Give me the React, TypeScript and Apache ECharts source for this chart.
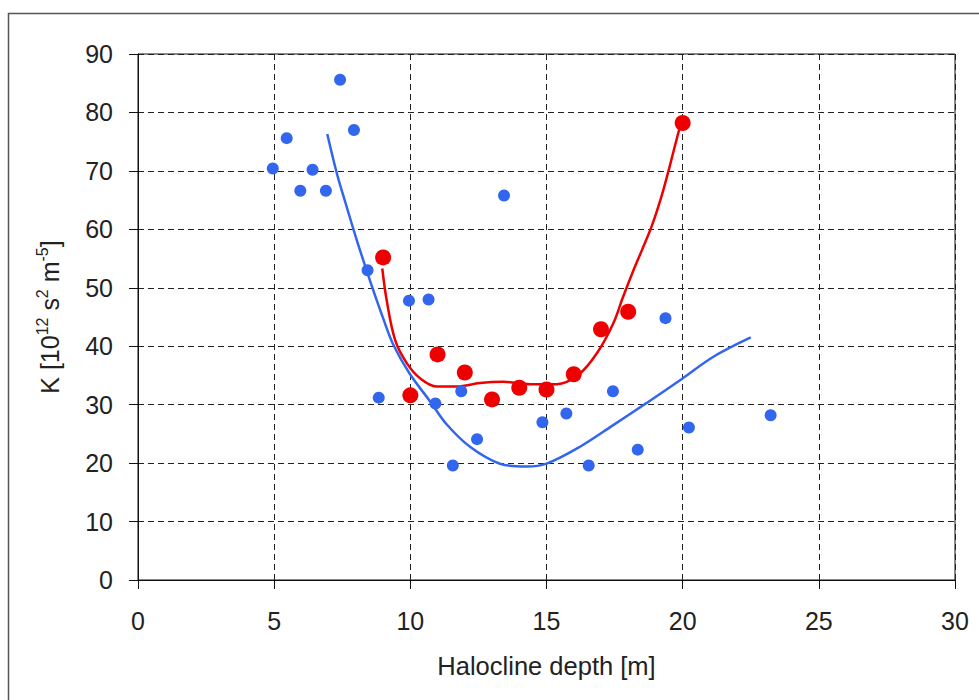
import React, { useEffect, useRef } from "react";
import * as echarts from "echarts";

// Measured points (halocline depth [m], K)
const blueX = [4.95, 5.46, 5.96, 6.41, 6.9, 7.42, 7.93, 8.43, 8.84, 9.95, 10.67, 10.92, 11.56, 11.87, 12.45, 13.44, 14.85, 15.73, 16.55, 17.44, 18.35, 19.37, 20.23, 23.23];
const blueY = [70.4, 75.6, 66.6, 70.2, 66.6, 85.6, 77.0, 53.0, 31.2, 47.8, 48.0, 30.2, 19.6, 32.3, 24.1, 65.8, 27.0, 28.5, 19.6, 32.3, 22.3, 44.8, 26.1, 28.2];

const redX = [9, 10, 11, 12, 13, 14, 15, 16, 17, 18, 20];
const redY = [55.2, 31.6, 38.6, 35.5, 30.9, 32.9, 32.6, 35.2, 42.9, 45.9, 78.2];

// Fitted curves
const blueFitX = [6.95, 7.3, 7.66, 8.03, 8.55, 9.0, 9.38, 9.99, 10.72, 11.34, 12.19, 13.29, 14.27, 15.0, 16.23, 17.45, 18.68, 19.97, 21.13, 22.5];
const blueFitY = [76.3, 69.6, 63.9, 58.2, 50.8, 44.8, 40.2, 35.2, 30.6, 26.6, 22.8, 19.9, 19.4, 19.9, 22.8, 26.5, 30.3, 34.4, 38.2, 41.5];

const redFitX = [8.97, 9.13, 9.44, 9.87, 10.36, 10.97, 11.7, 12.56, 13.42, 14.4, 15.38, 16.17, 16.85, 17.45, 17.8, 18.15, 18.5, 18.86, 19.2, 19.48, 19.7, 19.93];
const redFitY = [53.3, 47.9, 41.1, 37.1, 34.5, 33.1, 33.1, 33.7, 33.9, 33.5, 33.5, 35.1, 38.8, 43.9, 48.3, 52.5, 56.4, 60.5, 65.3, 70.0, 74.0, 78.1];

const xTicks = { min: 0, max: 30, interval: 5 };
const yTicks = { min: 0, max: 90, interval: 10 };

const zip = (xs: number[], ys: number[]) => xs.map((x, i) => [x, ys[i]]);

const FONT = "'Liberation Sans', Arial, sans-serif";
const BLUE = "#3366ee";
const RED = "#ee0000";

export default function App() {
  const ref = useRef<HTMLDivElement>(null);
  useEffect(() => {
    if (!ref.current) return;
    const chart = echarts.init(ref.current, null, { renderer: "svg" });
    const dashed = { show: true, lineStyle: { color: "#222", type: [6, 4] as any, width: 1 } };
    chart.setOption({
      animation: false,
      backgroundColor: "#ffffff",
      textStyle: { fontFamily: FONT },
      grid: {
        left: 138,
        right: 24,
        top: 54,
        bottom: 120,
        show: true,
        borderColor: "#111",
        borderWidth: 1,
      },
      graphic: [
        {
          type: "rect",
          shape: { x: 8.5, y: 13.5, width: 1000, height: 1000 },
          style: { fill: "none", stroke: "#555", lineWidth: 1.5 },
          silent: true,
        },
      ],
      xAxis: {
        type: "value",
        min: xTicks.min,
        max: xTicks.max,
        interval: xTicks.interval,
        axisLine: { show: true, onZero: false, lineStyle: { color: "#111", width: 1 } },
        axisTick: { show: true, length: 9, lineStyle: { color: "#111" } },
        axisLabel: { color: "#222", fontSize: 25, margin: 28, fontFamily: FONT },
        splitLine: dashed,
        name: "Halocline depth [m]",
        nameLocation: "middle",
        nameGap: 73,
        nameTextStyle: { color: "#222", fontSize: 25.5, fontFamily: FONT },
      },
      yAxis: {
        type: "value",
        min: yTicks.min,
        max: yTicks.max,
        interval: yTicks.interval,
        axisLine: { show: true, onZero: false, lineStyle: { color: "#111", width: 1 } },
        axisTick: { show: true, length: 9, lineStyle: { color: "#111" } },
        axisLabel: { color: "#222", fontSize: 25, margin: 25, fontFamily: FONT },
        splitLine: dashed,
        name: "K [10{s|12} s{s|2} m{s|-5}]",
        nameLocation: "middle",
        nameRotate: 90,
        nameGap: 72,
        nameTextStyle: {
          color: "#222",
          fontSize: 25,
          lineHeight: 32,
          fontFamily: FONT,
          rich: {
            s: { fontSize: 16, lineHeight: 16, verticalAlign: "top", color: "#222", fontFamily: FONT },
          },
        },
      },
      series: [
        {
          type: "line",
          data: zip(blueFitX, blueFitY),
          smooth: 0.35,
          showSymbol: false,
          symbol: "none",
          lineStyle: { color: BLUE, width: 2.5 },
          z: 2,
        },
        {
          type: "line",
          data: zip(redFitX, redFitY),
          smooth: 0.35,
          showSymbol: false,
          symbol: "none",
          lineStyle: { color: RED, width: 2.5 },
          z: 2,
        },
        {
          type: "scatter",
          data: zip(blueX, blueY),
          symbol: "circle",
          symbolSize: 12,
          itemStyle: { color: BLUE, opacity: 1 },
          z: 3,
        },
        {
          type: "scatter",
          data: zip(redX, redY),
          symbol: "circle",
          symbolSize: 16,
          itemStyle: { color: RED, opacity: 1 },
          z: 4,
        },
      ],
    });
    return () => chart.dispose();
  }, []);
  return (
    <div
      ref={ref}
      style={{ position: "fixed", left: 0, top: 0, width: 979, height: 700, background: "#fff" }}
    />
  );
}
